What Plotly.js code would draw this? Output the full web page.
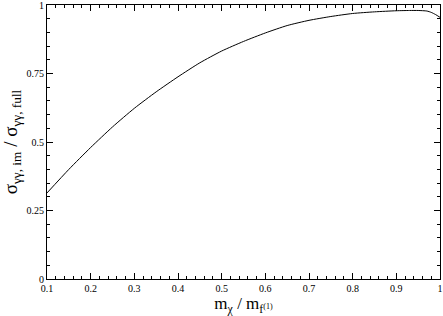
<!DOCTYPE html>
<html>
<head>
<meta charset="utf-8">
<script src="https://cdn.plot.ly/plotly-3.0.1.min.js"></script>
<style>html,body{margin:0;padding:0;background:#fff;}#chart{width:443px;height:316px;}</style>
</head>
<body>
<div id="chart"></div>
<script>
const massRatio = [0.1, 0.15, 0.2, 0.25, 0.3, 0.35, 0.4, 0.45, 0.5, 0.55, 0.6, 0.65, 0.7, 0.75, 0.8, 0.85, 0.9, 0.93, 0.95, 0.97, 0.98, 0.99, 1.0];
const sigmaRatio = [0.314, 0.40, 0.48, 0.555, 0.623, 0.683, 0.738, 0.789, 0.832, 0.867, 0.898, 0.925, 0.944, 0.958, 0.969, 0.975, 0.979, 0.980, 0.980, 0.978, 0.973, 0.965, 0.955];
const xTickVals = [0.1, 0.2, 0.3, 0.4, 0.5, 0.6, 0.7, 0.8, 0.9, 1];
const xTickText = ["0.1", "0.2", "0.3", "0.4", "0.5", "0.6", "0.7", "0.8", "0.9", "1"];
const yTickVals = [0, 0.25, 0.5, 0.75, 1];
const yTickText = ["0", "0.25", "0.5", "0.75", "1"];

const serif = "Liberation Serif";
const trace = {
  x: massRatio, y: sigmaRatio, type: 'scatter', mode: 'lines',
  line: {color: '#000', width: 1, shape: 'spline', smoothing: 0.6}, hoverinfo: 'skip'
};
const axisCommon = {
  showgrid: false, zeroline: false, showline: true, linecolor: '#000', linewidth: 1,
  mirror: 'ticks', ticks: 'inside', ticklen: 6, tickwidth: 1, tickcolor: '#000',
  tickfont: {family: serif, size: 10, color: '#000'}, tickmode: 'array',
  ticklabeloverflow: 'allow'
};
const layout = {
  width: 443, height: 316,
  margin: {l: 47, r: 3, t: 5, b: 37},
  paper_bgcolor: '#fff', plot_bgcolor: '#fff', showlegend: false,
  font: {family: serif, color: '#000'},
  xaxis: Object.assign({}, axisCommon, {
    range: [0.1, 1], tickvals: xTickVals, ticktext: xTickText,
    minor: {dtick: 0.02, tick0: 0.1, ticks: 'inside', ticklen: 3, tickcolor: '#000', tickwidth: 1},
    title: {text: 'm<sub>χ</sub> / m<sub>f</sub><span style="font-size:8px">(1)</span>', font: {family: serif, size: 17, color: '#000'}, standoff: 5}
  }),
  yaxis: Object.assign({}, axisCommon, {
    range: [0, 1], tickvals: yTickVals, ticktext: yTickText,
    minor: {dtick: 0.05, tick0: 0, ticks: 'inside', ticklen: 3, tickcolor: '#000', tickwidth: 1},
    title: {text: 'σ<sub>γγ, im</sub> / σ<sub>γγ, full</sub>', font: {family: serif, size: 19, color: '#000'}, standoff: 5}
  })
};
Plotly.newPlot('chart', [trace], layout, {displayModeBar: false, staticPlot: true});
</script>
</body>
</html>
